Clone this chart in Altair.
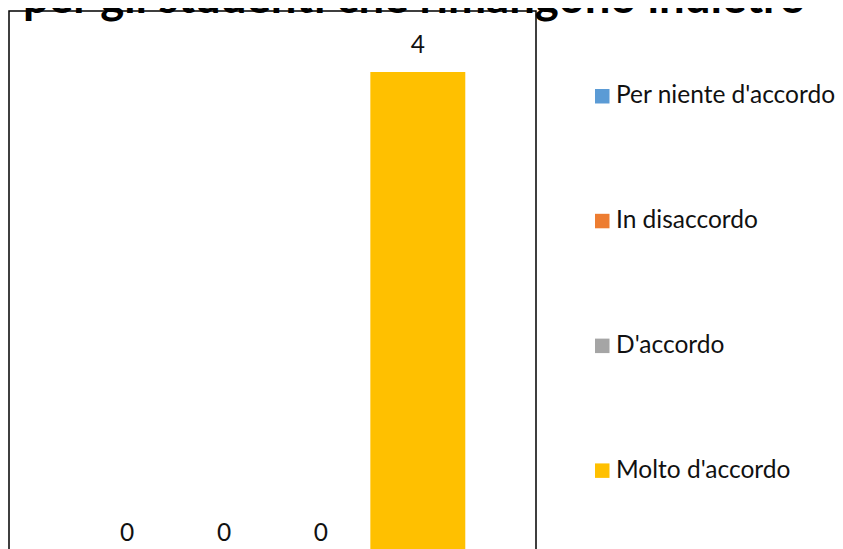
import altair as alt
import pandas as pd

title_text = "per gli studenti che rimangono indietro"
series = ["Per niente d'accordo", "In disaccordo", "D'accordo", "Molto d'accordo"]
values = [0, 0, 0, 4]
colors = ["#5B9BD5", "#ED7D31", "#A5A5A5", "#FFC000"]

df = pd.DataFrame({"serie": series, "valore": values})
df_title = pd.DataFrame({"t": [title_text]})

x = alt.X("serie:N", sort=series, axis=None,
          scale=alt.Scale(paddingInner=0.02, paddingOuter=0.73))
y = alt.Y("valore:Q", axis=None, scale=alt.Scale(domain=[0, 4.5], nice=False))

bars = alt.Chart(df).mark_bar().encode(
    x=x,
    y=y,
    color=alt.Color(
        "serie:N",
        sort=series,
        scale=alt.Scale(domain=series, range=colors),
        legend=alt.Legend(
            title=None,
            orient="none",
            legendX=581,
            legendY=73,
            direction="vertical",
            symbolType="square",
            symbolSize=210,
            symbolStrokeWidth=0,
            labelFont="Lato",
            labelFontSize=24.5,
            labelColor="#111111",
            labelOffset=1.5,
            labelLimit=400,
            rowPadding=99.8,
            padding=0,
        ),
    ),
)

labels = alt.Chart(df).mark_text(
    dy=-19, baseline="alphabetic", fontSize=24.5, font="Lato", color="#111111"
).encode(x=x, y=y, text="valore:Q")

title = alt.Chart(df_title).mark_text(
    align="left", baseline="alphabetic", font="Lato", fontWeight="bold",
    fontSize=45.5, color="black"
).encode(x=alt.value(14), y=alt.value(2), text="t:N")

chart = alt.layer(bars, labels, title).properties(
    width=527,
    height=549,
    padding={"left": 1, "top": 3, "right": 299, "bottom": -11},
    autosize=alt.AutoSizeParams(type="none"),
).configure_view(stroke="black", strokeWidth=1.5)

chart.save("out.html", embed_options={"renderer": "svg", "actions": False})
